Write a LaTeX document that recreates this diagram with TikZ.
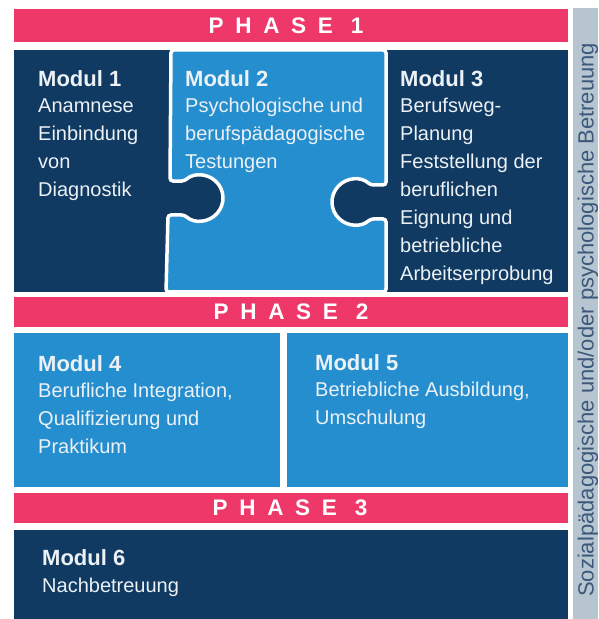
\documentclass[tikz,border=0pt]{standalone}
\usepackage{fontspec}
\setmainfont{Liberation Sans}
\newfontfamily\phasefont[LetterSpace=52]{Liberation Sans}
\usetikzlibrary{positioning}
\definecolor{phasepink}{RGB}{238,56,106}
\definecolor{modnavy}{RGB}{16,58,98}
\definecolor{modblue}{RGB}{37,142,207}
\definecolor{sidegray}{RGB}{183,197,209}
\definecolor{sidetext}{RGB}{60,88,122}
\definecolor{modwhite}{RGB}{236,241,245}
\newcommand{\modtitle}[1]{{\bfseries\fontsize{22}{28}\selectfont #1}}
\tikzset{
	% bars and labels
	phasebar/.style={fill=phasepink},
	phaselabel/.style={text=white,inner sep=0pt,font=\phasefont\bfseries\fontsize{22.5}{26}\selectfont},
	% module texts
	modtext/.style={text=modwhite,align=left,anchor=north west,inner sep=0pt,font=\fontsize{20}{28}\selectfont},
	sidelabel/.style={text=sidetext,inner sep=0pt,font=\fontsize{22}{25}\selectfont},
}
\begin{document}
\begin{tikzpicture}[x=1pt,y=1pt]
	\useasboundingbox (0,0) rectangle (598,619);
	
	\fill[sidegray] (573,0) rectangle (598,611);
	\node[sidelabel,rotate=90,anchor=base west] (side) at (593.5,22) {Sozialpädagogische und/oder psychologische Betreuung};
	
	\fill[phasebar] (14,577) rectangle (568,610);
	\node[phaselabel] (p1) at (286,593) {PHASE 1};
	
	\fill[modnavy] (14,327) rectangle (568,569);
	\filldraw[fill=modblue,draw=white,line width=3.5pt,rounded corners=3pt]
		(171,569) -- (386,569) -- (386,434) -- (370.5,434) arc (47.6:312.4:23) -- (386,400) -- (386,327)
		-- (166,327) -- (168,404) -- (184.5,404) arc (227.6:492.4:23) -- (170,438) -- cycle;
	\node[modtext] (m1) at (38,549) {\modtitle{Modul 1}\\[-2pt] Anamnese\\ Einbindung\\ von\\ Diagnostik};
	\node[modtext] (m2) at (185,549) {\modtitle{Modul 2}\\[-2pt] Psychologische und\\ berufspädagogische\\ Testungen};
	\node[modtext] (m3) at (400,549) {\modtitle{Modul 3}\\[-2pt] Berufsweg-\\ Planung\\ Feststellung der\\ beruflichen\\ Eignung und\\ betriebliche\\ Arbeitserprobung};
	
	\fill[phasebar] (14,292) rectangle (568,322);
	\node[phaselabel] (p2) at (291,307) {PHASE 2};
	
	\fill[modblue] (14,132) rectangle (280,286);
	\fill[modblue] (287,132) rectangle (568,286);
	\node[modtext] (m4) at (38,264) {\modtitle{Modul 4}\\[-2pt] Berufliche Integration,\\ Qualifizierung und\\ Praktikum};
	\node[modtext] (m5) at (315,265) {\modtitle{Modul 5}\\[-2pt] Betriebliche Ausbildung,\\ Umschulung};
	
	\fill[phasebar] (14,96) rectangle (568,126);
	\node[phaselabel] (p3) at (290,111) {PHASE 3};
	
	\fill[modnavy] (14,0) rectangle (568,89);
	\node[modtext] (m6) at (42,70) {\modtitle{Modul 6}\\[-1pt] Nachbetreuung};
	
\end{tikzpicture}
\end{document}
